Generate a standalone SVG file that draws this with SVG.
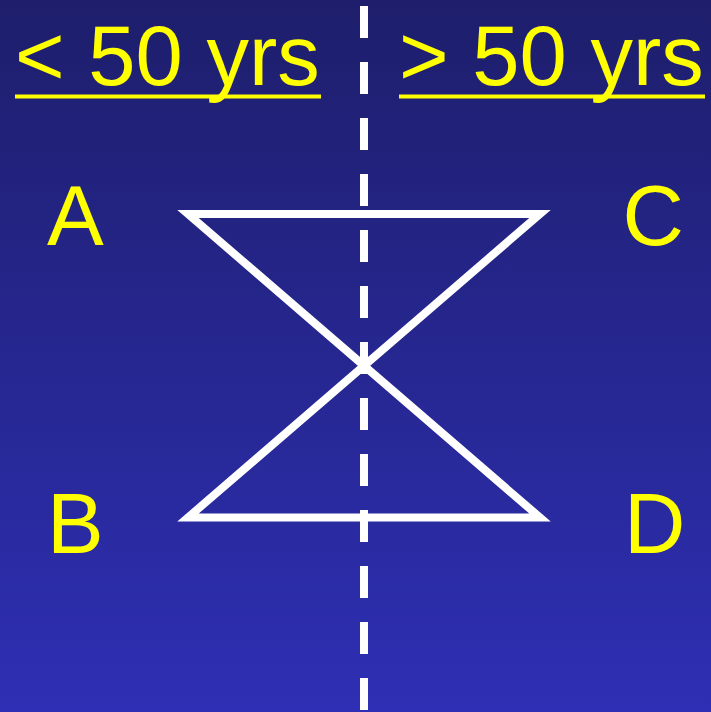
<svg xmlns="http://www.w3.org/2000/svg" width="711" height="712" viewBox="0 0 711 712">
  <defs>
    <linearGradient id="bg" x1="0" y1="0" x2="0" y2="1">
      <stop offset="0" stop-color="#1e1e6c"/>
      <stop offset="1" stop-color="#2e2fb4"/>
    </linearGradient>
    <style>
      .lbl { font-family: "Liberation Sans", Arial, sans-serif; font-size: 85px; fill: #ffff00; }
      .ul { fill: #ffff00; }
      .line { fill: none; stroke: #ffffff; stroke-width: 8; stroke-linejoin: miter; }
    </style>
  </defs>
  <rect x="0" y="0" width="711" height="712" fill="url(#bg)"/>

  <g id="divider">
    <line class="line" x1="364" y1="6" x2="364" y2="712" stroke-dasharray="32 24"/>
  </g>

  <g id="header-under50">
    <text class="lbl" x="15" y="85">&lt; 50 yrs</text>
    <rect class="ul" x="15" y="94.5" width="306" height="4"/>
  </g>
  <g id="header-over50">
    <text class="lbl" x="399" y="85">&gt; 50 yrs</text>
    <rect class="ul" x="399" y="94.5" width="306" height="4"/>
  </g>

  <g id="node-A"><text class="lbl" x="47" y="245">A</text></g>
  <g id="node-B"><text class="lbl" x="47" y="552.5">B</text></g>
  <g id="node-C"><text class="lbl" x="622.5" y="245">C</text></g>
  <g id="node-D"><text class="lbl" x="624" y="552.5">D</text></g>

  <g id="connectors">
    <path class="line" d="M188,214 L540,214 L188,517.5 L540,517.5 Z"/>
  </g>
</svg>
